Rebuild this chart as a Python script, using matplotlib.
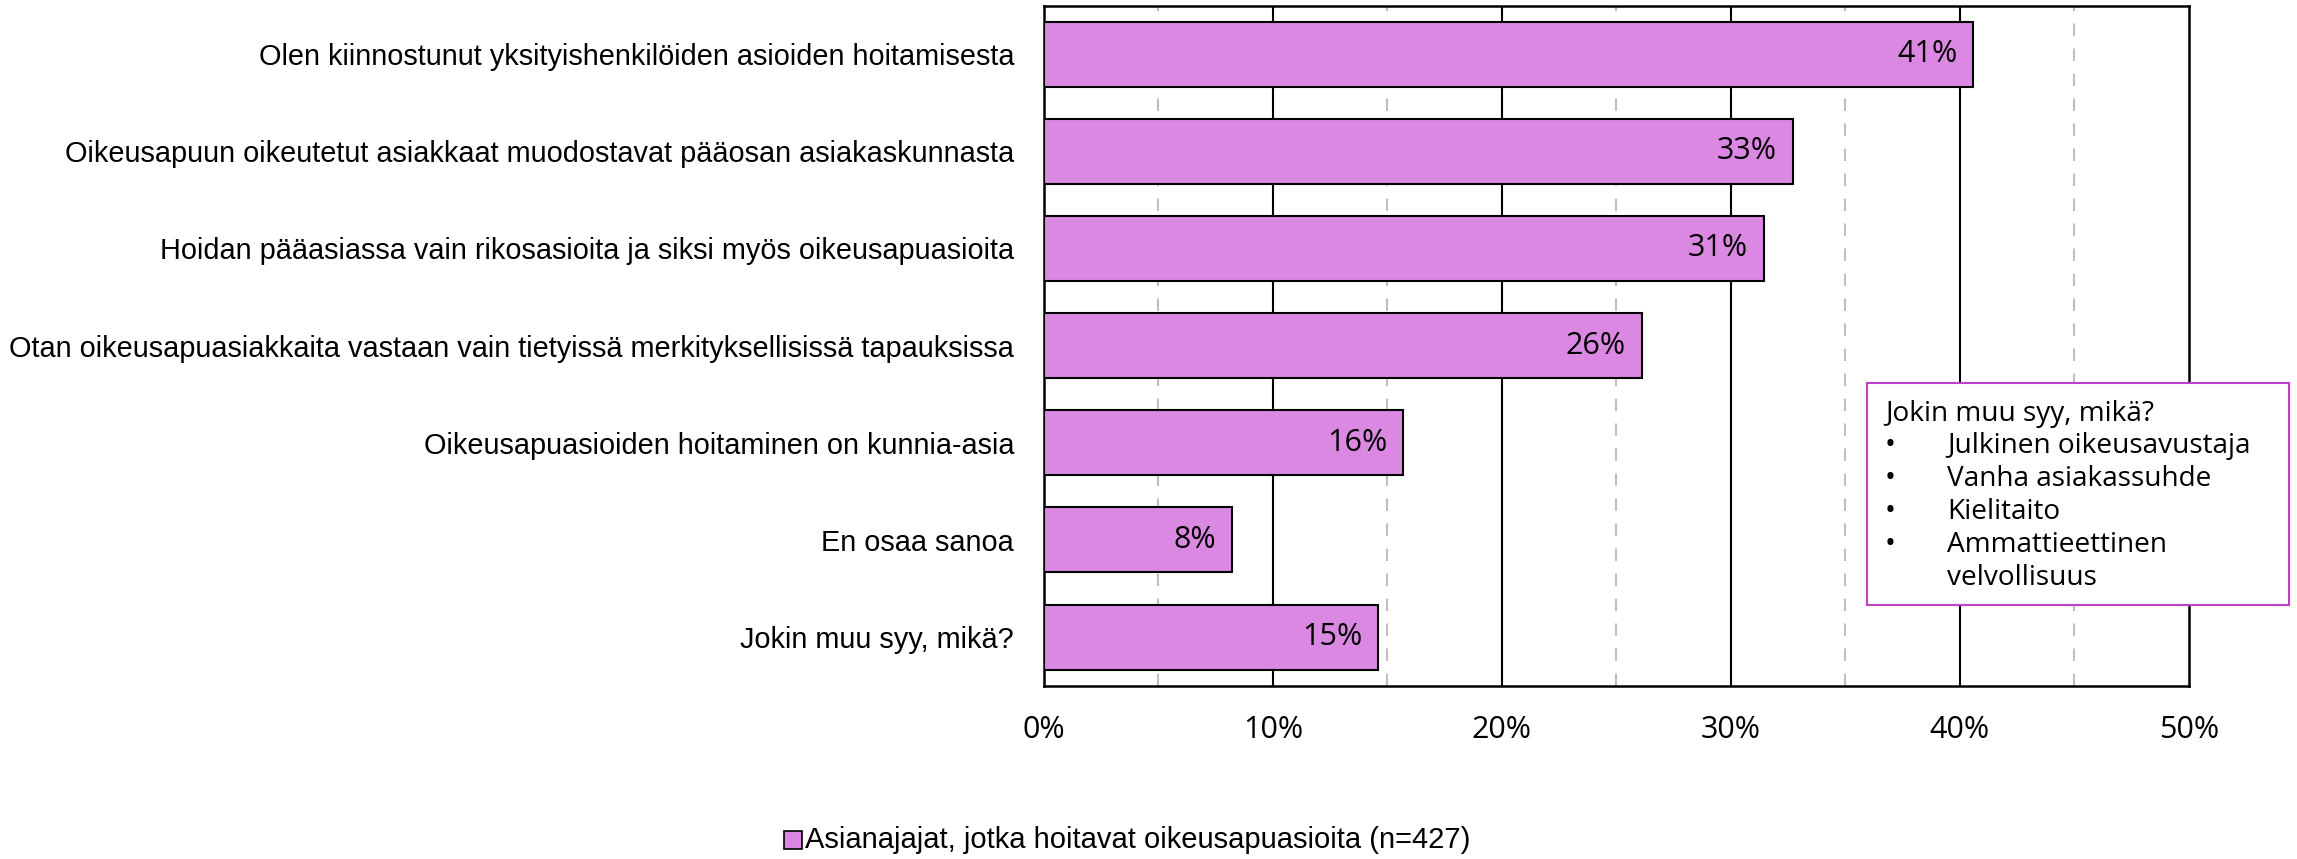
import matplotlib
matplotlib.use("Agg")
import matplotlib.pyplot as plt
from matplotlib.patches import Rectangle

# data
categories = [
    "Olen kiinnostunut yksityishenkilöiden asioiden hoitamisesta",
    "Oikeusapuun oikeutetut asiakkaat muodostavat pääosan asiakaskunnasta",
    "Hoidan pääasiassa vain rikosasioita ja siksi myös oikeusapuasioita",
    "Otan oikeusapuasiakkaita vastaan vain tietyissä merkityksellisissä tapauksissa",
    "Oikeusapuasioiden hoitaminen on kunnia-asia",
    "En osaa sanoa",
    "Jokin muu syy, mikä?",
]
values = [40.6, 32.7, 31.45, 26.1, 15.7, 8.2, 14.6]
series_name = "Asianajajat, jotka hoitavat oikeusapuasioita (n=427)"
note_title = "Jokin muu syy, mikä?"
note_items = ["Julkinen oikeusavustaja", "Vanha asiakassuhde", "Kielitaito",
              "Ammattieettinen\nvelvollisuus"]
xticks = [0, 10, 20, 30, 40, 50]

bar_color = "#DB88E2"
label_font = ["Liberation Sans Narrow", "Liberation Sans", "DejaVu Sans"]
num_font = ["Open Sans", "DejaVu Sans"]

W, H = 2297, 859
fig = plt.figure(figsize=(W / 100, H / 100), dpi=100)
ax = fig.add_axes([1044 / W, 1 - 685.7 / H, (2188.7 - 1044) / W, (685.7 - 5.5) / H])

y = list(range(len(categories)))
ax.barh(y, values, height=0.67, color=bar_color, edgecolor="black", linewidth=1.5, zorder=3)

for yi, v in zip(y, values):
    ax.text(v - 0.7, yi, f"{v:.0f}%", ha="right", va="center",
            fontsize=22, family=num_font, zorder=4)

ax.set_xlim(0, 50)
ax.set_ylim(6.5, -0.5)
ax.set_yticks(y)
ax.set_yticklabels(categories, family=label_font, fontsize=20.8)
ax.set_xticks(xticks)
ax.set_xticklabels([f"{t}%" for t in xticks], family=num_font, fontsize=22)
ax.tick_params(axis="both", length=0)
ax.tick_params(axis="y", pad=21.5)
ax.tick_params(axis="x", pad=21)

# gridlines
for t in [10, 20, 30, 40]:
    ax.axvline(t, color="black", linewidth=1.5, zorder=1)
for t in [5, 15, 25, 35, 45]:
    ax.axvline(t, color="#BFBFBF", linewidth=1.5, linestyle=(0, (6, 6)), zorder=1)

for s in ax.spines.values():
    s.set_linewidth(1.8)
    s.set_color("black")

# note box
fig.add_artist(Rectangle((1867 / W, 1 - 605 / H), (2289 - 1867) / W, (605 - 383) / H,
                         transform=fig.transFigure, facecolor="white",
                         edgecolor="#C040C8", linewidth=1.5, zorder=5))
fig.text(1885 / W, 1 - 421 / H, note_title, family=num_font, fontsize=20.2,
         va="baseline", ha="left", zorder=6)
base = 453
for item in note_items:
    lines = item.split("\n")
    fig.text(1885 / W, 1 - base / H, "•", family=num_font, fontsize=21,
             va="baseline", ha="left", zorder=6)
    for ln in lines:
        fig.text(1947 / W, 1 - base / H, ln, family=num_font, fontsize=20.2,
                 va="baseline", ha="left", zorder=6)
        base += 33

# legend
fig.add_artist(Rectangle((784 / W, 1 - 849 / H), 18 / W, 18 / H,
                         transform=fig.transFigure, facecolor=bar_color,
                         edgecolor="black", linewidth=1.2))
fig.text(805 / W, 1 - 840 / H, series_name, family=label_font, fontsize=21,
         va="center", ha="left")

fig.savefig("out.png", dpi=100)
